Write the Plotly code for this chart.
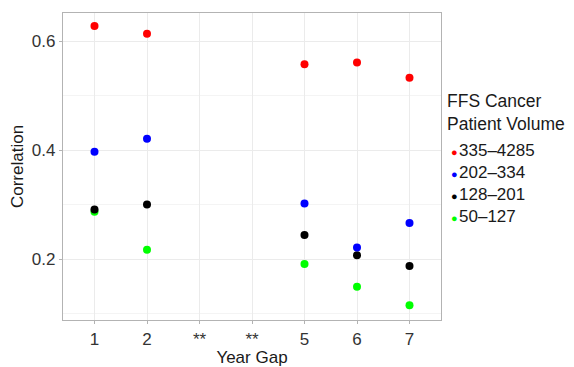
import plotly.graph_objects as go

x_pos = [1, 2, 5, 6, 7]
tick_vals = [1, 2, 3, 4, 5, 6, 7]
tick_text = ["1", "2", "**", "**", "5", "6", "7"]

legend_title = "FFS Cancer<br>Patient Volume"
series_names = ["335\u20134285", "202\u2013334", "128\u2013201", "50\u2013127"]
series_colors = ["#ff0000", "#0000ff", "#000000", "#00ff00"]
vol_335_4285 = [0.628, 0.614, 0.558, 0.561, 0.533]
vol_202_334 = [0.397, 0.421, 0.302, 0.221, 0.266]
vol_128_201 = [0.291, 0.300, 0.244, 0.207, 0.187]
vol_50_127 = [0.287, 0.217, 0.191, 0.149, 0.115]
series_values = [vol_335_4285, vol_202_334, vol_128_201, vol_50_127]

FONT = "Liberation Sans, Arial, Helvetica, sans-serif"
OFF = 8  # page body margin
W, H = 574 - OFF, 367 - OFF
L, R, T, B = 63 - OFF, 133, 13 - OFF, 47
PW, PH = W - L - R, H - T - B

def px_x(px):
    return (px - OFF - L) / PW

def px_y(py):
    return (H - B - (py - OFF)) / PH

fig = go.Figure()
for name, col, vals in reversed(list(zip(series_names, series_colors, series_values))):
    fig.add_trace(go.Scatter(x=x_pos, y=vals, mode="markers", name=name,
                             marker=dict(color=col, size=8), showlegend=False,
                             hoverinfo="x+y"))

annotations = [dict(
    text=legend_title, xref="paper", yref="paper", x=px_x(445), y=px_y(112.5),
    xanchor="left", yanchor="middle", align="left", showarrow=False,
    font=dict(family=FONT, size=17.5, color="#1a1a1a"),
)]
entry_y = [150, 172, 194, 216]
for name, col, ey in zip(series_names, series_colors, entry_y):
    annotations.append(dict(
        text=(f"<span style='color:{col};font-size:11px'>\u25cf</span>"
              f"<span style='font-size:5px'> </span>{name}"),
        xref="paper", yref="paper", x=px_x(449), y=px_y(ey),
        xanchor="left", yanchor="middle", align="left", showarrow=False,
        font=dict(family=FONT, size=17, color="#1a1a1a"),
    ))

fig.update_layout(
    width=W, height=H,
    margin=dict(l=L, r=R, t=T, b=B, autoexpand=False),
    paper_bgcolor="white", plot_bgcolor="white",
    font=dict(family=FONT, size=16, color="#333333"),
    showlegend=False,
    annotations=annotations,
    xaxis=dict(
        range=[0.4, 7.6], tickmode="array", tickvals=tick_vals, ticktext=tick_text,
        showgrid=True, gridcolor="#ebebeb", gridwidth=1, automargin=False,
        zeroline=False, showline=True, linecolor="#b3b3b3", linewidth=1.3, mirror=True,
        ticks="outside", ticklen=3, tickcolor="#b3b3b3",
        tickfont=dict(size=17, color="#333333"),
        title=dict(text="Year Gap", font=dict(size=17, color="#1a1a1a"), standoff=4),
    ),
    yaxis=dict(
        range=[0.088, 0.652], tickmode="array", tickvals=[0.2, 0.4, 0.6],
        ticktext=["0.2", "0.4", "0.6"], automargin=False,
        showgrid=True, gridcolor="#ebebeb", gridwidth=1,
        minor=dict(tickvals=[0.1, 0.3, 0.5], showgrid=True, gridcolor="#f4f4f4", gridwidth=1),
        zeroline=False, showline=True, linecolor="#b3b3b3", linewidth=1.3, mirror=True,
        ticks="outside", ticklen=3, tickcolor="#b3b3b3",
        tickfont=dict(size=17, color="#333333"),
        title=dict(text="Correlation", font=dict(size=17, color="#1a1a1a"), standoff=6),
    ),
)
fig.write_html("out.html")
